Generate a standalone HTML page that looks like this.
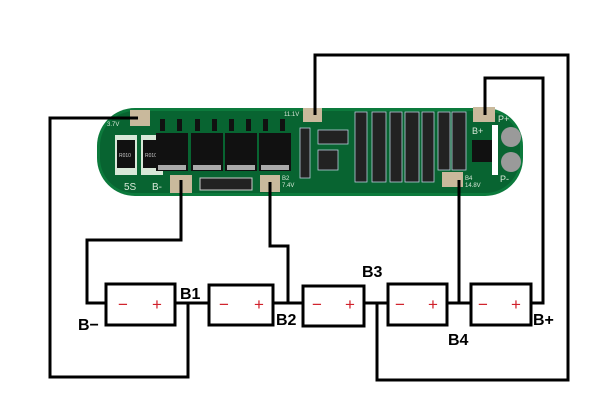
<!DOCTYPE html>
<html><head><meta charset="utf-8"><style>
html,body{margin:0;padding:0;background:#fff;}
svg{display:block;}
text{font-family:"Liberation Sans",sans-serif;}
</style></head><body>
<svg width="600" height="414" viewBox="0 0 600 414" xmlns="http://www.w3.org/2000/svg">
<rect width="600" height="414" fill="#fff"/>
<!-- PCB -->
<rect x="97" y="108" width="426" height="88" rx="38" fill="#0c7a3c"/>
<rect x="100" y="111" width="420" height="82" rx="35" fill="#086431"/>
<!-- small components left -->
<rect x="115" y="135" width="22" height="40" fill="#d8e8d8"/>
<rect x="117" y="140" width="18" height="28" fill="#111"/>
<rect x="141" y="135" width="22" height="40" fill="#d8e8d8"/>
<rect x="143" y="140" width="18" height="28" fill="#111"/>
<text x="119" y="157" font-size="5" fill="#ccc">R010</text>
<text x="145" y="157" font-size="5" fill="#ccc">R010</text>
<!-- MOSFETs -->
<g fill="#111">
<rect x="156" y="133" width="32" height="38"/>
<rect x="191" y="133" width="32" height="38"/>
<rect x="225" y="133" width="32" height="38"/>
<rect x="259" y="133" width="32" height="38"/>
<rect x="160" y="119" width="5" height="12"/><rect x="177" y="119" width="5" height="12"/>
<rect x="195" y="119" width="5" height="12"/><rect x="212" y="119" width="5" height="12"/>
<rect x="229" y="119" width="5" height="12"/><rect x="246" y="119" width="5" height="12"/>
<rect x="263" y="119" width="5" height="12"/><rect x="280" y="119" width="5" height="12"/>
</g>
<g fill="#aaa"><rect x="158" y="165" width="28" height="5"/><rect x="193" y="165" width="28" height="5"/><rect x="227" y="165" width="28" height="5"/><rect x="261" y="165" width="28" height="5"/></g>
<rect x="200" y="178" width="52" height="12" fill="#222" stroke="#ccc" stroke-width="1"/>
<!-- dense components -->
<g fill="#222" stroke="#bcd" stroke-width="0.8">
<rect x="300" y="128" width="10" height="50"/>
<rect x="318" y="130" width="30" height="14"/>
<rect x="318" y="150" width="20" height="20"/>
<rect x="355" y="112" width="12" height="70"/>
<rect x="372" y="112" width="14" height="70"/>
<rect x="390" y="112" width="12" height="70"/>
<rect x="405" y="112" width="14" height="70"/>
<rect x="422" y="112" width="12" height="70"/>
<rect x="438" y="112" width="12" height="58"/>
<rect x="452" y="112" width="14" height="58"/>
</g>
<rect x="472" y="140" width="20" height="22" fill="#111"/>
<rect x="492" y="125" width="6" height="50" fill="#fff"/>
<circle cx="511" cy="137" r="10" fill="#9a9a9a"/>
<circle cx="511" cy="162" r="10" fill="#9a9a9a"/>
<!-- pads -->
<g fill="#c9b99c">
<rect x="130" y="110" width="20" height="16"/>
<rect x="303" y="108" width="19" height="14"/>
<rect x="473" y="107" width="22" height="15"/>
<rect x="170" y="175" width="22" height="18"/>
<rect x="260" y="175" width="20" height="17"/>
<rect x="442" y="172" width="21" height="15"/>
</g>
<g fill="#d8e8d8" font-size="10">
<text x="124" y="190">5S</text><text x="152" y="190">B-</text>
<text x="472" y="134" font-size="9">B+</text>
<text x="498" y="122" font-size="9">P+</text>
<text x="500" y="182" font-size="9">P-</text>
<text x="107" y="126" font-size="6">3.7V</text>
<text x="282" y="180" font-size="6">B2</text><text x="282" y="187" font-size="6">7.4V</text>
<text x="465" y="180" font-size="6">B4</text><text x="465" y="187" font-size="6">14.8V</text>
<text x="284" y="116" font-size="6">11.1V</text>
</g>
<!-- wires -->
<g fill="none" stroke="#000" stroke-width="3">
<polyline points="138,118 50,118 50,377 188,377 188,303"/>
<polyline points="181,180 181,240 87,240 87,303 105,303"/>
<polyline points="175,303 208,303"/>
<polyline points="270,182 270,246 288,246 288,303"/>
<polyline points="273,303 302,303"/>
<polyline points="364,303 387,303"/>
<polyline points="315,115 315,55 568,55 568,380 377,380 377,303"/>
<polyline points="447,303 470,303"/>
<polyline points="459,180 459,303"/>
<polyline points="485,115 485,78 543,78 543,303 531,303"/>
</g>
<!-- batteries -->
<g fill="#fff" stroke="#000" stroke-width="3">
<rect x="106" y="284" width="69" height="41"/>
<rect x="209" y="285" width="64" height="40"/>
<rect x="303" y="286" width="61" height="40"/>
<rect x="388" y="284" width="59" height="41"/>
<rect x="471" y="284" width="60" height="41"/>
</g>
<g fill="#d0202a" font-size="17">
<text x="118" y="310">−</text><text x="152" y="310">+</text>
<text x="219" y="310">−</text><text x="254" y="310">+</text>
<text x="312" y="310">−</text><text x="345" y="310">+</text>
<text x="395" y="310">−</text><text x="428" y="310">+</text>
<text x="478" y="310">−</text><text x="511" y="310">+</text>
</g>
<g fill="#000" font-size="16" font-weight="bold">
<text x="78" y="330">B−</text>
<text x="180" y="299">B1</text>
<text x="276" y="325">B2</text>
<text x="362" y="277">B3</text>
<text x="448" y="345">B4</text>
<text x="533" y="325">B+</text>
</g>
</svg>
</body></html>
